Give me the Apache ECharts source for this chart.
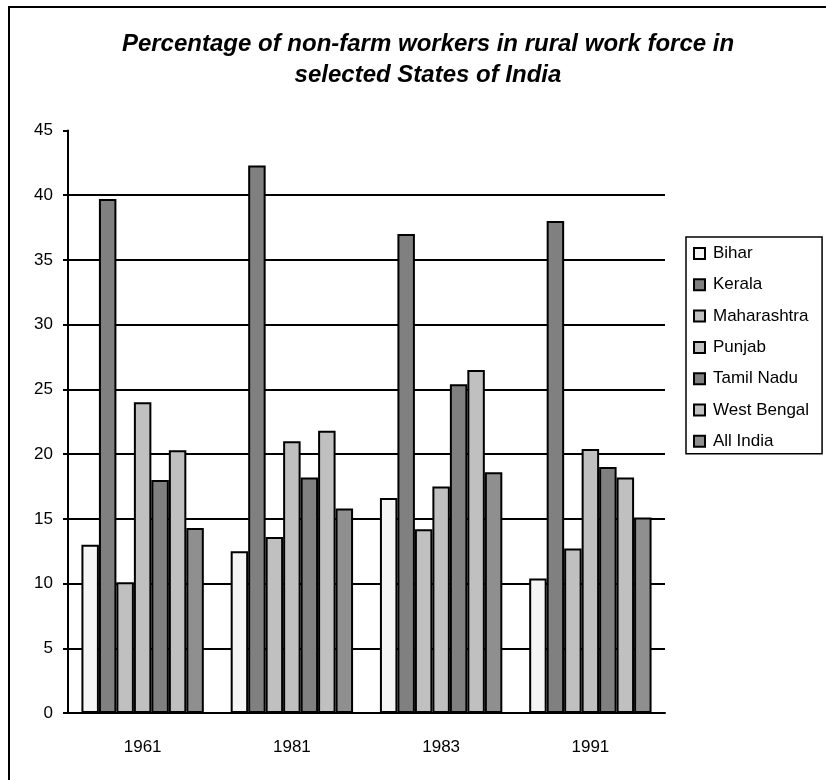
<!DOCTYPE html>
<html>
<head>
<meta charset="utf-8">
<script src="https://cdn.jsdelivr.net/npm/echarts@6/dist/echarts.min.js"></script>
<style>
  html, body { margin: 0; padding: 0; background: #fff; }
  #chart { width: 826px; height: 780px; }
</style>
</head>
<body>
<div id="chart"></div>
<script>
// data
const years = ['1961', '1981', '1983', '1991'];
const bihar = [13.0, 12.5, 16.6, 10.4];
const kerala = [39.7, 42.3, 37.0, 38.0];
const maharashtra = [10.1, 13.6, 14.2, 12.7];
const punjab = [24.0, 21.0, 17.5, 20.4];
const tamilNadu = [18.0, 18.2, 25.4, 19.0];
const westBengal = [20.3, 21.8, 26.5, 18.2];
const allIndia = [14.3, 15.8, 18.6, 15.1];
const yTicks = [0, 5, 10, 15, 20, 25, 30, 35, 40, 45];

const seriesDefs = [
  { name: 'Bihar', data: bihar, color: '#f5f5f5' },
  { name: 'Kerala', data: kerala, color: '#808080' },
  { name: 'Maharashtra', data: maharashtra, color: '#c0c0c0' },
  { name: 'Punjab', data: punjab, color: '#c0c0c0' },
  { name: 'Tamil Nadu', data: tamilNadu, color: '#808080' },
  { name: 'West Bengal', data: westBengal, color: '#c0c0c0' },
  { name: 'All India', data: allIndia, color: '#8f8f8f' }
];

const font = 'Liberation Sans, Arial, sans-serif';
const chart = echarts.init(document.getElementById('chart'));

// no grid line at the top tick (45), only at 5..40
const splitColors = yTicks.map((v, i) => (i === yTicks.length - 1 ? 'rgba(0,0,0,0)' : '#000'));

const options = {
  animation: false,
  backgroundColor: '#fff',
  textStyle: { fontFamily: font },
  title: {
    text: 'Percentage of non-farm workers in rural work force in\nselected States of India',
    left: 423,
    top: 24,
    textAlign: 'center',
    textStyle: {
      fontFamily: font,
      fontSize: 24,
      fontWeight: 'bold',
      fontStyle: 'italic',
      color: '#000',
      lineHeight: 31
    }
  },
  legend: {
    orient: 'vertical',
    left: 686,
    top: 237,
    padding: [8, 13, 4, 7],
    itemWidth: 11,
    itemHeight: 11,
    itemGap: 14.3,
    icon: 'rect',
    borderColor: '#000',
    borderWidth: 1.5,
    textStyle: { fontFamily: font, fontSize: 17, color: '#000', lineHeight: 17, padding: [0, 0, 0, 3] },
    data: seriesDefs.map(s => s.name)
  },
  grid: {
    left: 68,
    right: 161,
    top: 130.5,
    bottom: 67
  },
  xAxis: {
    type: 'category',
    data: years,
    axisLine: { lineStyle: { color: '#000', width: 2 } },
    axisTick: { length: 8, lineStyle: { color: '#000', width: 2 } },
    axisLabel: { color: '#000', fontSize: 17, fontFamily: font, margin: 26 },
    splitLine: { show: false }
  },
  yAxis: {
    type: 'value',
    min: 0,
    max: 45,
    interval: 5,
    axisLine: { show: true, lineStyle: { color: '#000', width: 2 } },
    axisTick: { show: true, length: 5, lineStyle: { color: '#000', width: 2 } },
    axisLabel: { color: '#000', fontSize: 17, fontFamily: font, margin: 15 },
    splitLine: { show: true, lineStyle: { color: splitColors, width: 2 } }
  },
  graphic: [
    {
      type: 'rect',
      shape: { x: 9, y: 7, width: 900, height: 900 },
      style: { fill: 'none', stroke: '#000', lineWidth: 2 },
      silent: true
    }
  ],
  series: seriesDefs.map(s => ({
    name: s.name,
    type: 'bar',
    data: s.data,
    barGap: '0%',
    barCategoryGap: '18%',
    itemStyle: { color: s.color, borderColor: '#000', borderWidth: 2 }
  }))
};

chart.setOption(options);
</script>
</body>
</html>
